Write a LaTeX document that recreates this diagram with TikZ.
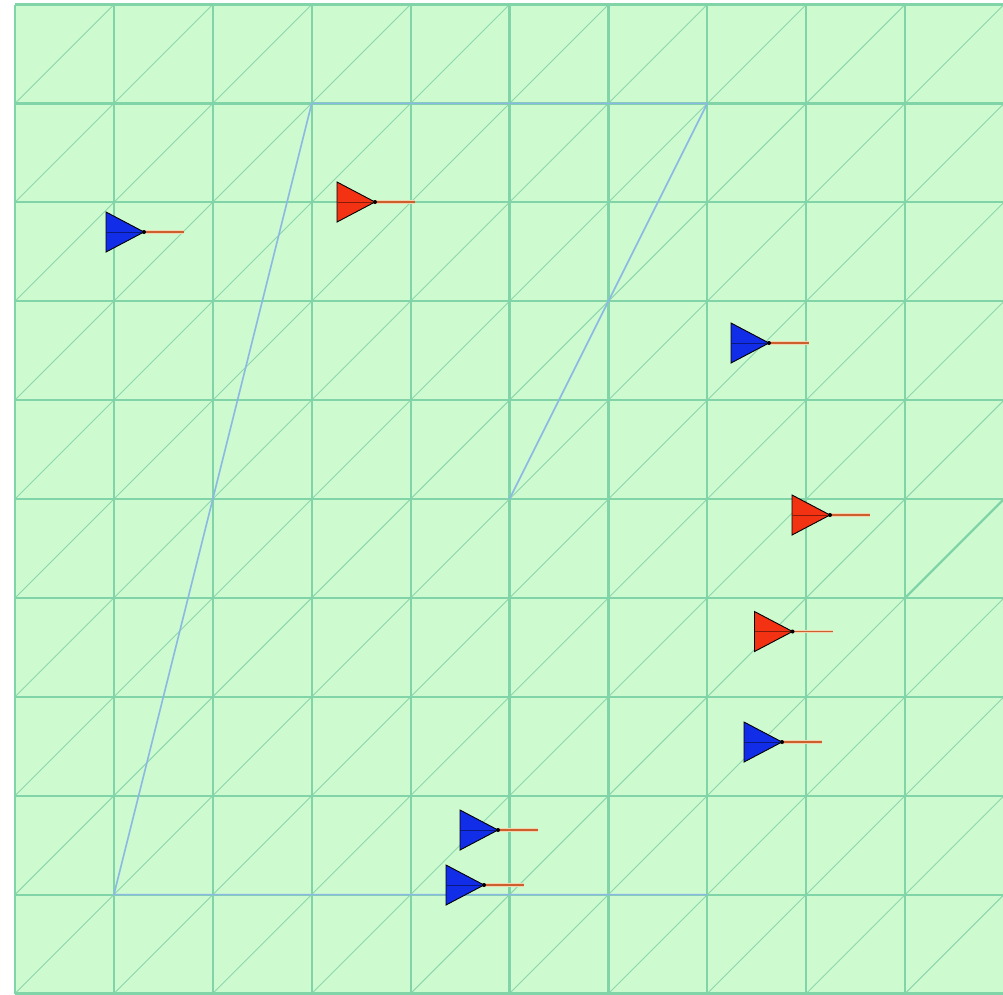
\documentclass[tikz,border=0pt]{standalone}
\usetikzlibrary{calc}
\definecolor{bgfill}{RGB}{206,250,208}
\definecolor{gridc}{RGB}{128,212,168}
\definecolor{diagc}{RGB}{140,214,172}
\definecolor{polyc}{RGB}{140,185,228}
\definecolor{mkblue}{RGB}{18,45,232}
\definecolor{mkred}{RGB}{242,50,18}
\definecolor{stemc}{RGB}{205,95,45}
\definecolor{haloc}{RGB}{240,214,176}
\tikzset{
  gridline/.style={draw=gridc, line width=2.2pt},
  diagline/.style={draw=diagc, line width=0.9pt},
  thickdiag/.style={draw=gridc, line width=2.2pt},
  polyline/.style={draw=polyc, line width=1.6pt, line join=round},
  pics/marker/.style={code={
    \draw[haloc, line width=3.2pt] (38,0) -- (78,0);
    \draw[stemc, line width=1.3pt] (38,0) -- (78,0);
    \filldraw[fill=#1, draw=black, line width=0.9pt, line join=miter] (0,-20) -- (38,0) -- (0,20) -- cycle;
    \draw[#1!55!black, line width=1pt] (0,0) -- (38,0);
    \fill[black] (38,0) circle (2pt);
  }}
}
\begin{document}
\begin{tikzpicture}[x=1pt,y=-1pt]
\useasboundingbox (0,0) rectangle (1003,994);
\fill[white] (0,0) rectangle (1003,994);
\begin{scope}
\clip (0,0) rectangle (1003,994);
\begin{scope}[shift={(15,4.5)}, x=98.9pt, y=-98.9pt]
  \fill[bgfill] (0,0) rectangle (10,10);
  \foreach \i in {0,...,9}{
    \foreach \j in {0,...,9}{
      \draw[diagline] (\i,\j+1) -- (\i+1,\j);
    }
  }
  \foreach \k in {0,...,10}{
    \draw[gridline] (\k,0) -- (\k,10);
    \draw[gridline] (0,\k) -- (10,\k);
  }
  \draw[thickdiag] (9,6) -- (10,5);
  \coordinate (p1) at (5,5);
  \coordinate (p2) at (7,1);
  \coordinate (p3) at (3,1);
  \coordinate (p4) at (1,9);
  \coordinate (p5) at (7,9);
  \draw[polyline] (p1) -- (p2) -- (p3) -- (p4) -- (p5);
\end{scope}
\end{scope}
\coordinate (m1) at (106,232);
\coordinate (m2) at (337,202);
\coordinate (m3) at (731,343);
\coordinate (m4) at (792,515);
\coordinate (m5) at (754.5,631.5);
\coordinate (m6) at (744,742);
\coordinate (m7) at (460,830);
\coordinate (m8) at (446,885);
\pic at (m1) {marker=mkblue};
\pic at (m2) {marker=mkred};
\pic at (m3) {marker=mkblue};
\pic at (m4) {marker=mkred};
\pic at (m5) {marker=mkred};
\pic at (m6) {marker=mkblue};
\pic at (m7) {marker=mkblue};
\pic at (m8) {marker=mkblue};
\end{tikzpicture}
\end{document}
